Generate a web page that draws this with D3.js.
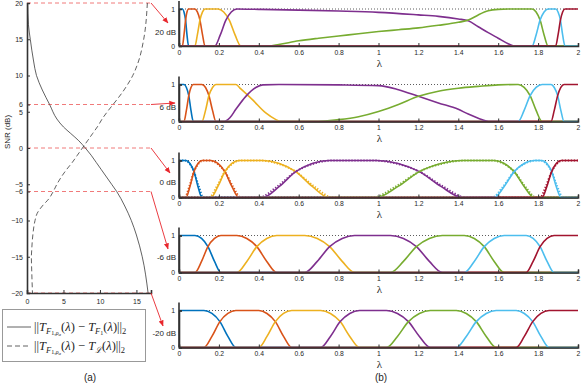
<!DOCTYPE html>
<html>
<head>
<meta charset="utf-8">
<script src="https://cdn.jsdelivr.net/npm/d3@7"></script>
<style>
  body { margin: 0; background: #fff; }
  svg { display: block; }
  text { font-family: "Liberation Sans", Arial, sans-serif; fill: #262626; }
</style>
</head>
<body>
<div id="chart"></div>
<script>
// ---- left panel: error vs SNR ----
const snrLevels = [20, 6, 0, -6, -20];
const snrTicks = [-20, -15, -10, -6, -5, 0, 5, 6, 10, 15, 20];
const errTicks = [0, 5, 10, 15];
const snrSolid = [20, 17, 15, 12, 10, 8, 6, 4, 2.9, 2, 1, 0, -1, -2, -3, -4, -5, -6, -8, -10, -12, -15, -20];
const errSolid = [0.1, 0.2, 0.45, 0.9, 1.3, 2.1, 3.1, 4.1, 5.0, 6.0, 7.1, 8.0, 8.8, 9.5, 10.2, 10.9, 11.6, 12.3, 13.4, 14.3, 15.0, 15.8, 16.6];
const snrDashed = [20, 15, 12, 10, 8, 6, 5.5, 4, 3, 2, 1, 0, -1, -2, -3, -4, -5, -6, -7, -8, -9, -10, -12, -14, -15, -17, -20];
const errDashed = [16.5, 16.0, 15.3, 14.5, 13.3, 11.8, 11.4, 10.3, 9.7, 9.0, 8.3, 7.6, 6.9, 6.2, 5.4, 4.7, 4.1, 3.6, 3.0, 2.1, 1.4, 1.1, 0.8, 0.65, 0.6, 0.65, 0.75];

// ---- right panels: filter responses vs lambda ----
const lambdaTicks = [0, 0.2, 0.4, 0.6, 0.8, 1, 1.2, 1.4, 1.6, 1.8, 2];
const lambdaLabels = ["0", "0.2", "0.4", "0.6", "0.8", "1", "1.2", "1.4", "1.6", "1.8", "2"];
const dbLabels = ["20 dB", "6 dB", "0 dB", "-6 dB", "-20 dB"];
const colors = ["#0072BD", "#D95319", "#EDB120", "#7E2F8E", "#77AC30", "#4DBEEE", "#A2142F"];

const filters20 = [
  [[0,1],[0.017,1],[0.025,0.92],[0.033,0.7],[0.04,0.3],[0.048,0],[2,0]],
  [[0,0],[0.017,0],[0.025,0.3],[0.033,0.7],[0.04,0.92],[0.048,1],[0.08,1],[0.092,0.92],[0.105,0.7],[0.118,0.3],[0.13,0],[2,0]],
  [[0,0],[0.08,0],[0.092,0.3],[0.105,0.7],[0.118,0.92],[0.13,1],[0.195,1],[0.224,0.92],[0.252,0.7],[0.281,0.3],[0.31,0],[2,0]],
  [[0,0],[0.18,0],[0.207,0.3],[0.235,0.7],[0.262,0.92],[0.29,1],[0.4,0.99],[0.6,0.97],[0.8,0.945],[1.0,0.91],[1.2,0.84],[1.3,0.8],[1.4,0.73],[1.45,0.68],[1.5,0.52],[1.55,0.36],[1.6,0.21],[1.65,0.06],[1.68,0],[2,0]],
  [[0,0],[0.45,0],[0.5,0.04],[0.6,0.14],[0.7,0.21],[0.8,0.27],[0.9,0.33],[1.0,0.39],[1.1,0.44],[1.2,0.49],[1.3,0.56],[1.4,0.64],[1.45,0.7],[1.5,0.84],[1.55,0.95],[1.6,0.99],[1.65,1],[1.77,1],[1.79,0.92],[1.81,0.7],[1.83,0.3],[1.85,0],[2,0]],
  [[0,0],[1.77,0],[1.79,0.3],[1.81,0.7],[1.83,0.92],[1.85,1],[1.888,1],[1.9,0.92],[1.912,0.7],[1.923,0.3],[1.935,0],[2,0]],
  [[0,0],[1.888,0],[1.9,0.3],[1.912,0.7],[1.923,0.92],[1.935,1],[2,1]]
];

const filters6 = [
  [[0,1],[0.025,1],[0.037,0.92],[0.049,0.7],[0.06,0.3],[0.072,0],[2,0]],
  [[0,0],[0.025,0],[0.037,0.3],[0.049,0.7],[0.06,0.92],[0.072,1],[0.115,1],[0.133,0.92],[0.15,0.7],[0.168,0.3],[0.185,0],[2,0]],
  [[0,0],[0.115,0],[0.133,0.3],[0.15,0.7],[0.168,0.92],[0.185,1],[0.285,1],[0.31,0.88],[0.368,0.59],[0.435,0.23],[0.486,0.05],[0.51,0],[2,0]],
  [[0,0],[0.226,0],[0.255,0.1],[0.285,0.33],[0.335,0.68],[0.385,0.92],[0.42,0.99],[0.5,1],[0.8,0.99],[1.0,0.97],[1.1,0.86],[1.2,0.68],[1.3,0.5],[1.4,0.33],[1.45,0.2],[1.5,0.09],[1.56,0],[2,0]],
  [[0,0],[0.7,0],[0.8,0.05],[0.9,0.13],[1.0,0.27],[1.05,0.36],[1.1,0.46],[1.2,0.68],[1.3,0.82],[1.4,0.9],[1.5,0.95],[1.6,0.99],[1.7,1],[1.73,0.92],[1.76,0.7],[1.79,0.3],[1.82,0],[2,0]],
  [[0,0],[1.7,0],[1.73,0.3],[1.76,0.7],[1.79,0.92],[1.82,1],[1.865,1],[1.881,0.92],[1.898,0.7],[1.914,0.3],[1.93,0],[2,0]],
  [[0,0],[1.865,0],[1.881,0.3],[1.898,0.7],[1.914,0.92],[1.93,1],[2,1]]
];

const filters0 = [
  [[0,1],[0.035,1],[0.055,0.92],[0.075,0.7],[0.095,0.3],[0.115,0],[2,0]],
  [[0,0],[0.035,0],[0.055,0.3],[0.075,0.7],[0.095,0.92],[0.115,1],[0.16,1],[0.195,0.92],[0.23,0.7],[0.265,0.3],[0.3,0],[2,0]],
  [[0,0],[0.16,0],[0.195,0.3],[0.23,0.7],[0.265,0.92],[0.3,1],[0.42,1],[0.503,0.92],[0.585,0.7],[0.668,0.3],[0.75,0],[2,0]],
  [[0,0],[0.42,0],[0.503,0.3],[0.585,0.7],[0.668,0.92],[0.75,1],[0.99,1],[1.098,0.92],[1.205,0.7],[1.313,0.3],[1.42,0],[2,0]],
  [[0,0],[0.99,0],[1.098,0.3],[1.205,0.7],[1.313,0.92],[1.42,1],[1.58,1],[1.63,0.92],[1.68,0.7],[1.73,0.3],[1.78,0],[2,0]],
  [[0,0],[1.58,0],[1.63,0.3],[1.68,0.7],[1.73,0.92],[1.78,1],[1.82,1],[1.844,0.92],[1.868,0.7],[1.891,0.3],[1.915,0],[2,0]],
  [[0,0],[1.82,0],[1.844,0.3],[1.868,0.7],[1.891,0.92],[1.915,1],[2,1]]
];

// dotted companions drawn in the 0 dB panel
const filters0Dotted = [
  [[0,1],[0.028,1],[0.052,0.92],[0.075,0.7],[0.099,0.3],[0.122,0],[2,0]],
  [[0,0],[0.028,0],[0.052,0.3],[0.075,0.7],[0.099,0.92],[0.122,1],[0.15,1],[0.19,0.92],[0.23,0.7],[0.27,0.3],[0.31,0],[2,0]],
  [[0,0],[0.15,0],[0.19,0.3],[0.23,0.7],[0.27,0.92],[0.31,1],[0.4,1],[0.493,0.92],[0.585,0.7],[0.678,0.3],[0.77,0],[2,0]],
  [[0,0],[0.4,0],[0.493,0.3],[0.585,0.7],[0.678,0.92],[0.77,1],[0.97,1],[1.088,0.92],[1.205,0.7],[1.323,0.3],[1.44,0],[2,0]],
  [[0,0],[0.97,0],[1.088,0.3],[1.205,0.7],[1.323,0.92],[1.44,1],[1.57,1],[1.625,0.92],[1.68,0.7],[1.735,0.3],[1.79,0],[2,0]],
  [[0,0],[1.57,0],[1.625,0.3],[1.68,0.7],[1.735,0.92],[1.79,1],[1.81,1],[1.839,0.92],[1.868,0.7],[1.896,0.3],[1.925,0],[2,0]],
  [[0,0],[1.81,0],[1.839,0.3],[1.868,0.7],[1.896,0.92],[1.925,1],[2,1]]
];

const filtersM6 = [
  [[0,1],[0.08,1],[0.113,0.92],[0.145,0.7],[0.178,0.3],[0.21,0],[2,0]],
  [[0,0],[0.08,0],[0.113,0.3],[0.145,0.7],[0.178,0.92],[0.21,1],[0.29,1],[0.34,0.92],[0.39,0.7],[0.44,0.3],[0.49,0],[2,0]],
  [[0,0],[0.29,0],[0.34,0.3],[0.39,0.7],[0.44,0.92],[0.49,1],[0.63,1],[0.693,0.92],[0.755,0.7],[0.818,0.3],[0.88,0],[2,0]],
  [[0,0],[0.63,0],[0.693,0.3],[0.755,0.7],[0.818,0.92],[0.88,1],[1.06,1],[1.125,0.92],[1.19,0.7],[1.255,0.3],[1.32,0],[2,0]],
  [[0,0],[1.06,0],[1.125,0.3],[1.19,0.7],[1.255,0.92],[1.32,1],[1.43,1],[1.48,0.92],[1.53,0.7],[1.58,0.3],[1.63,0],[2,0]],
  [[0,0],[1.43,0],[1.48,0.3],[1.53,0.7],[1.58,0.92],[1.63,1],[1.74,1],[1.775,0.92],[1.81,0.7],[1.845,0.3],[1.88,0],[2,0]],
  [[0,0],[1.74,0],[1.775,0.3],[1.81,0.7],[1.845,0.92],[1.88,1],[2,1]]
];

const filtersM20 = [
  [[0,1],[0.125,1],[0.165,0.92],[0.205,0.7],[0.245,0.3],[0.285,0],[2,0]],
  [[0,0],[0.125,0],[0.165,0.3],[0.205,0.7],[0.245,0.92],[0.285,1],[0.4,1],[0.441,0.92],[0.483,0.7],[0.524,0.3],[0.565,0],[2,0]],
  [[0,0],[0.4,0],[0.441,0.3],[0.483,0.7],[0.524,0.92],[0.565,1],[0.71,1],[0.759,0.92],[0.808,0.7],[0.856,0.3],[0.905,0],[2,0]],
  [[0,0],[0.71,0],[0.759,0.3],[0.808,0.7],[0.856,0.92],[0.905,1],[1.04,1],[1.095,0.92],[1.15,0.7],[1.205,0.3],[1.26,0],[2,0]],
  [[0,0],[1.04,0],[1.095,0.3],[1.15,0.7],[1.205,0.92],[1.26,1],[1.39,1],[1.44,0.92],[1.49,0.7],[1.54,0.3],[1.59,0],[2,0]],
  [[0,0],[1.39,0],[1.44,0.3],[1.49,0.7],[1.54,0.92],[1.59,1],[1.69,1],[1.731,0.92],[1.773,0.7],[1.814,0.3],[1.855,0],[2,0]],
  [[0,0],[1.69,0],[1.731,0.3],[1.773,0.7],[1.814,0.92],[1.855,1],[2,1]]
];

const panels = [
  { curves: filters20 },
  { curves: filters6 },
  { curves: filters0, dotted: filters0Dotted },
  { curves: filtersM6 },
  { curves: filtersM20 }
];

// ---- layout ----
const W = 581, H = 388;
const panelBase = [46, 121.5, 197.5, 272.5, 347.5];
const panelH = 37;
const dbLabelY = [33, 108, 183, 258, 334];
const arrowEnds = [[168, 23], [175, 103], [170, 173], [168, 249], [163, 326]];

const svg = d3.select("#chart").append("svg")
  .attr("width", W).attr("height", H);

const defs = svg.append("defs");
defs.append("marker")
  .attr("id", "arrow")
  .attr("viewBox", "0 0 10 10")
  .attr("refX", 9).attr("refY", 5)
  .attr("markerWidth", 7).attr("markerHeight", 7)
  .attr("orient", "auto")
  .append("path")
  .attr("d", "M0,1 L10,5 L0,9 Z")
  .attr("fill", "#e8262c");

// left panel
const xL = d3.scaleLinear().domain([0, 17]).range([27, 151]);
const yL = d3.scaleLinear().domain([-20, 20]).range([293, 3]);
const gL = svg.append("g");

// red dashed level lines
gL.selectAll(".lvl").data(snrLevels).enter().append("line")
  .attr("x1", xL(0)).attr("x2", xL(17))
  .attr("y1", d => yL(d)).attr("y2", d => yL(d))
  .attr("stroke", "#f07a7a").attr("stroke-width", 1)
  .attr("stroke-dasharray", "4,3");

const lineL = d3.line().x(d => xL(d[1])).y(d => yL(d[0])).curve(d3.curveMonotoneY);
gL.append("path")
  .attr("d", lineL(d3.zip(snrSolid, errSolid)))
  .attr("fill", "none").attr("stroke", "#3a3a3a").attr("stroke-width", 0.8);
gL.append("path")
  .attr("d", lineL(d3.zip(snrDashed, errDashed)))
  .attr("fill", "none").attr("stroke", "#3a3a3a").attr("stroke-width", 0.8)
  .attr("stroke-dasharray", "5,3");

const yAxisL = d3.axisLeft(yL).tickValues(snrTicks).tickSize(-3).tickPadding(4).tickFormat(d3.format("d"));
const xAxisL = d3.axisBottom(xL).tickValues(errTicks).tickSize(-3).tickPadding(6);
gL.append("g").attr("class", "axL").attr("transform", `translate(${xL(0)},0)`).call(yAxisL);
gL.append("g").attr("class", "axL").attr("transform", `translate(0,${yL(-20)})`).call(xAxisL);

gL.append("text")
  .attr("transform", `translate(8,132) rotate(-90)`)
  .attr("text-anchor", "middle").attr("dominant-baseline", "middle")
  .attr("font-size", 8).text("SNR (dB)");

// legend
const lg = svg.append("g");
lg.append("rect").attr("x", 2.5).attr("y", 309.5).attr("width", 143).attr("height", 52)
  .attr("fill", "#fff").attr("stroke", "#999").attr("stroke-width", 1);
lg.append("line").attr("x1", 7).attr("x2", 31).attr("y1", 327).attr("y2", 327)
  .attr("stroke", "#3a3a3a").attr("stroke-width", 0.8);
lg.append("line").attr("x1", 7).attr("x2", 31).attr("y1", 346).attr("y2", 346)
  .attr("stroke", "#3a3a3a").attr("stroke-width", 0.8).attr("stroke-dasharray", "5,3");

function legendText(y, lastSub) {
  const t = lg.append("text").attr("x", 34).attr("y", y)
    .style("font-family", "'Liberation Serif', 'DejaVu Serif', serif").attr("font-size", 12.5);
  t.append("tspan").text("||");
  t.append("tspan").attr("font-style", "italic").text("T");
  t.append("tspan").attr("font-style", "italic").attr("font-size", 8.5).attr("dy", 2.5).text("F");
  t.append("tspan").attr("font-size", 6).attr("dy", 1.5).text("1,");
  t.append("tspan").attr("font-style", "italic").attr("font-size", 6).text("ρ");
  t.append("tspan").attr("font-style", "italic").attr("font-size", 5).attr("dy", 1).text("a");
  t.append("tspan").attr("dy", -5).text("(");
  t.append("tspan").attr("font-style", "italic").text("λ");
  t.append("tspan").text(") − ");
  t.append("tspan").attr("font-style", "italic").text("T");
  if (lastSub === "F1") {
    t.append("tspan").attr("font-style", "italic").attr("font-size", 8.5).attr("dy", 2.5).text("F");
    t.append("tspan").attr("font-size", 6).attr("dy", 1.5).text("1");
    t.append("tspan").attr("dy", -4).text("(");
  } else {
    t.append("tspan").attr("font-style", "italic").attr("font-size", 8.5).attr("dy", 2.5).text("ℒ");
    t.append("tspan").attr("dy", -2.5).text("(");
  }
  t.append("tspan").attr("font-style", "italic").text("λ");
  t.append("tspan").text(")||");
  t.append("tspan").attr("font-size", 8.5).attr("dy", 2.5).text("2");
}
legendText(331, "F1");
legendText(350, "L");

svg.append("text").attr("x", 90).attr("y", 378).attr("text-anchor", "middle")
  .attr("dominant-baseline", "middle").attr("font-size", 10).text("(a)");

// arrows + dB labels
snrLevels.forEach((s, i) => {
  svg.append("line")
    .attr("x1", xL(17)).attr("y1", yL(s))
    .attr("x2", arrowEnds[i][0]).attr("y2", arrowEnds[i][1])
    .attr("stroke", "#e8262c").attr("stroke-width", 0.9)
    .attr("marker-end", "url(#arrow)");
  svg.append("text").attr("x", 176).attr("y", dbLabelY[i])
    .attr("text-anchor", "end").attr("dominant-baseline", "middle")
    .attr("font-size", 8).text(dbLabels[i]);
});

// right panels
const xR = d3.scaleLinear().domain([0, 2]).range([179, 578]);

panels.forEach((p, i) => {
  const base = panelBase[i];
  const yR = d3.scaleLinear().domain([0, 1]).range([base, base - panelH]);
  const g = svg.append("g");
  const line = d3.line().x(d => xR(d[0])).y(d => yR(d[1])).curve(d3.curveMonotoneX);

  // dotted reference at 1
  g.append("line")
    .attr("x1", xR(0)).attr("x2", xR(2)).attr("y1", yR(1)).attr("y2", yR(1))
    .attr("stroke", "#333").attr("stroke-width", 0.8).attr("stroke-dasharray", "1,2");

  if (p.dotted) {
    g.selectAll(".dot").data(p.dotted).enter().append("path")
      .attr("d", line)
      .attr("fill", "none")
      .attr("stroke", (d, k) => colors[k])
      .attr("stroke-width", 2)
      .attr("stroke-dasharray", "1.3,1.7");
  }
  g.selectAll(".crv").data(p.curves).enter().append("path")
    .attr("d", line)
    .attr("fill", "none")
    .attr("stroke", (d, k) => colors[k])
    .attr("stroke-width", 1.6);

  const xAx = d3.axisBottom(xR).tickValues(lambdaTicks).tickSize(-3).tickPadding(4)
    .tickFormat((d, k) => lambdaLabels[k]);
  const yAx = d3.axisLeft(yR).tickValues([0, 1]).tickSize(-3).tickPadding(4).tickFormat(d3.format("d"));
  g.append("g").attr("class", "axR").attr("transform", `translate(0,${base})`).call(xAx);
  g.append("g").attr("class", "axR").attr("transform", `translate(${xR(0)},0)`).call(yAx);
  // extend y axis above 1
  g.append("line").attr("x1", xR(0)).attr("x2", xR(0)).attr("y1", base).attr("y2", base - 45)
    .attr("stroke", "#333").attr("stroke-width", 1.6);

  g.append("text").attr("x", xR(1) + 1).attr("y", base + 18)
    .attr("text-anchor", "middle").attr("dominant-baseline", "middle")
    .style("font-family", "'Liberation Serif', 'DejaVu Serif', serif")
    .attr("font-size", 11).text("λ");
});

svg.append("text").attr("x", 381).attr("y", 378).attr("text-anchor", "middle")
  .attr("dominant-baseline", "middle").attr("font-size", 10).text("(b)");

// axis styling
svg.selectAll(".domain").attr("stroke", "#333").attr("stroke-width", 1.6);
svg.selectAll(".tick line").attr("stroke", "#333").attr("stroke-width", 1);
svg.selectAll(".axL .tick text").attr("font-size", 7).attr("fill", "#262626")
  .style("font-family", "'Liberation Sans', Arial, sans-serif");
svg.selectAll(".axR .tick text").attr("font-size", 6.8).attr("fill", "#262626")
  .style("font-family", "'Liberation Sans', Arial, sans-serif");
</script>
</body>
</html>
